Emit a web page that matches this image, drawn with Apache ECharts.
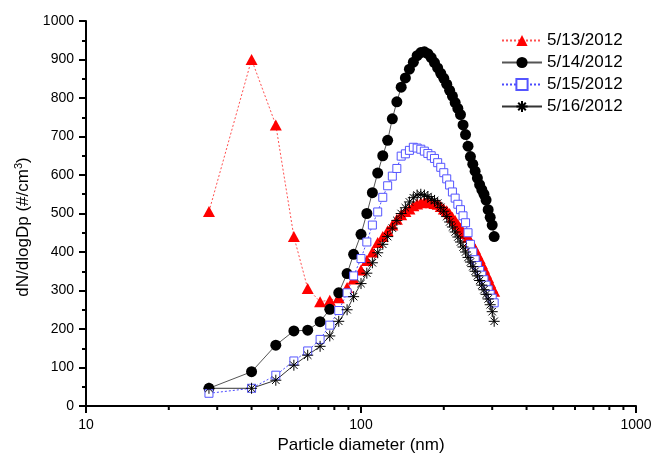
<!DOCTYPE html>
<html><head><meta charset="utf-8">
<script src="https://cdn.jsdelivr.net/npm/echarts@6/dist/echarts.min.js"></script>
<style>html,body{margin:0;padding:0;background:#fff}#c{width:654px;height:455px}</style>
</head><body><div id="c"></div>
<script>
// Particle diameters (nm)
const diameters = [28, 40, 49, 57, 64, 71, 77, 83, 89, 94,
  100, 105, 110, 115, 120, 125, 130, 135, 140, 145, 150, 155, 160, 165, 170, 175, 180, 185, 190, 195,
  200, 205, 210, 215, 220, 225, 230, 235, 240, 245, 250, 255, 260, 265, 270, 275, 280, 285, 290, 295, 300, 305];
// dN/dlogDp (#/cm3)
const may13 = [505, 900, 730, 440, 305, 271, 275, 281, 308, 330,
  353, 378, 400, 425, 440, 455, 470, 485, 497, 505, 512, 520, 525, 528, 530, 530, 528, 526, 524, 518,
  512, 507, 500, 490, 482, 472, 462, 452, 448, 438, 428, 418, 408, 395, 383, 370, 358, 345, 333, 320, 308, 298];
const may14 = [46, 89, 158, 195, 197, 219, 251, 294, 344, 394,
  446, 500, 554, 605, 650, 690, 746, 790, 828, 852, 875, 893, 910, 918, 920, 915, 905, 892, 878, 864,
  851, 836, 820, 805, 788, 773, 757, 730, 705, 675, 648, 628, 610, 592, 575, 562, 550, 535, 510, 490, 470, 440];
const may15 = [33, 46, 80, 117, 143, 173, 210, 248, 294, 338,
  383, 426, 470, 504, 542, 572, 597, 617, 649, 655, 664, 672, 670, 667, 662, 656, 650, 643, 632, 620,
  606, 590, 574, 556, 540, 524, 510, 494, 476, 450, 420, 400, 380, 365, 352, 340, 328, 314, 302, 290, 280, 268];
const may16 = [46, 46, 67, 106, 132, 155, 182, 220, 250, 284,
  318, 345, 372, 398, 420, 440, 462, 482, 500, 515, 530, 541, 548, 550, 548, 544, 538, 534, 527, 516,
  506, 492, 478, 465, 452, 439, 426, 413, 400, 386, 374, 362, 350, 338, 326, 314, 302, 290, 278, 263, 245, 220];
const seriesNames = ['5/13/2012', '5/14/2012', '5/15/2012', '5/16/2012'];
const xMinorTicks = [20, 30, 40, 50, 60, 70, 80, 90, 200, 300, 400, 500, 600, 700, 800, 900];

const FONT = '"Liberation Sans", Arial, Helvetica, sans-serif';
const pair = arr => diameters.map((d, i) => [d, arr[i]]);
const asterisk = 'path://M5,0L5,10M0,5L10,5M1.6,1.6L8.4,8.4M8.4,1.6L1.6,8.4';

const chart = echarts.init(document.getElementById('c'), null, {renderer: 'canvas'});
chart.setOption({
  animation: false,
  backgroundColor: '#fff',
  textStyle: {fontFamily: FONT},
  grid: {left: 86, right: 18, top: 21, bottom: 49, containLabel: false, outerBoundsMode: 'none'},
  legend: {
    data: seriesNames,
    orient: 'vertical',
    left: 496, top: 27,
    itemWidth: 40, itemHeight: 14, itemGap: 5,
    textStyle: {fontSize: 17, color: '#000', fontFamily: FONT}
  },
  xAxis: {
    type: 'log', logBase: 10, min: 10, max: 1000,
    name: 'Particle diameter (nm)', nameLocation: 'middle', nameGap: 31,
    nameTextStyle: {fontSize: 17, color: '#000', fontFamily: FONT},
    axisLine: {onZero: false, lineStyle: {color: '#000', width: 2}},
    axisTick: {length: 7, lineStyle: {color: '#000', width: 2}},
    axisLabel: {fontSize: 14, color: '#000', margin: 12, fontFamily: FONT, formatter: v => String(v)},
    splitLine: {show: false}, minorTick: {show: false}
  },
  yAxis: {
    type: 'value', min: 0, max: 1000, interval: 100,
    name: '{a|dN/dlogDp (#/cm}{s|3}{a|)}', nameLocation: 'middle', nameGap: 52,
    nameTextStyle: {
      color: '#000', fontFamily: FONT, padding: [0, 27, 0, 0],
      rich: {a: {fontSize: 17, color: '#000', fontFamily: FONT},
             s: {fontSize: 11, color: '#000', fontFamily: FONT, verticalAlign: 'top', padding: [0, 0, 8, 0]}}
    },
    axisLine: {show: true, lineStyle: {color: '#000', width: 2}},
    axisTick: {show: true, length: 7, lineStyle: {color: '#000', width: 2}},
    minorTick: {show: true, splitNumber: 2, length: 4, lineStyle: {color: '#000', width: 2}},
    axisLabel: {fontSize: 14, color: '#000', margin: 12, fontFamily: FONT, formatter: v => String(v)},
    splitLine: {show: false}
  },
  series: [
    {
      name: seriesNames[0], type: 'line', data: pair(may13),
      symbol: 'triangle', symbolSize: [12, 11],
      lineStyle: {color: '#ff5050', width: 1, type: [2, 2]},
      itemStyle: {color: '#ff0000', borderWidth: 0}
    },
    {
      name: seriesNames[1], type: 'line', data: pair(may14),
      symbol: 'circle', symbolSize: 11,
      lineStyle: {color: '#555', width: 1},
      itemStyle: {color: '#000', borderWidth: 0}
    },
    {
      name: seriesNames[2], type: 'line', data: pair(may15),
      symbol: 'rect', symbolSize: 8,
      lineStyle: {color: '#4a4aff', width: 1, type: [2, 2]},
      itemStyle: {color: '#fff', borderColor: '#5555ff', borderWidth: 1}
    },
    {
      name: seriesNames[3], type: 'line', data: pair(may16),
      symbol: asterisk, symbolSize: 11,
      lineStyle: {color: '#333', width: 1},
      itemStyle: {color: '#000', borderColor: '#000', borderWidth: 1}
    },
    {
      name: 'xMinor', type: 'custom', silent: true, clip: false,
      data: xMinorTicks.map(v => [v, 0]),
      renderItem: (params, api) => {
        const p = api.coord([api.value(0), api.value(1)]);
        return {type: 'line', shape: {x1: p[0], y1: p[1], x2: p[0], y2: p[1] + 4},
                style: {stroke: '#000', lineWidth: 2}};
      }
    }
  ]
});
</script></body></html>
